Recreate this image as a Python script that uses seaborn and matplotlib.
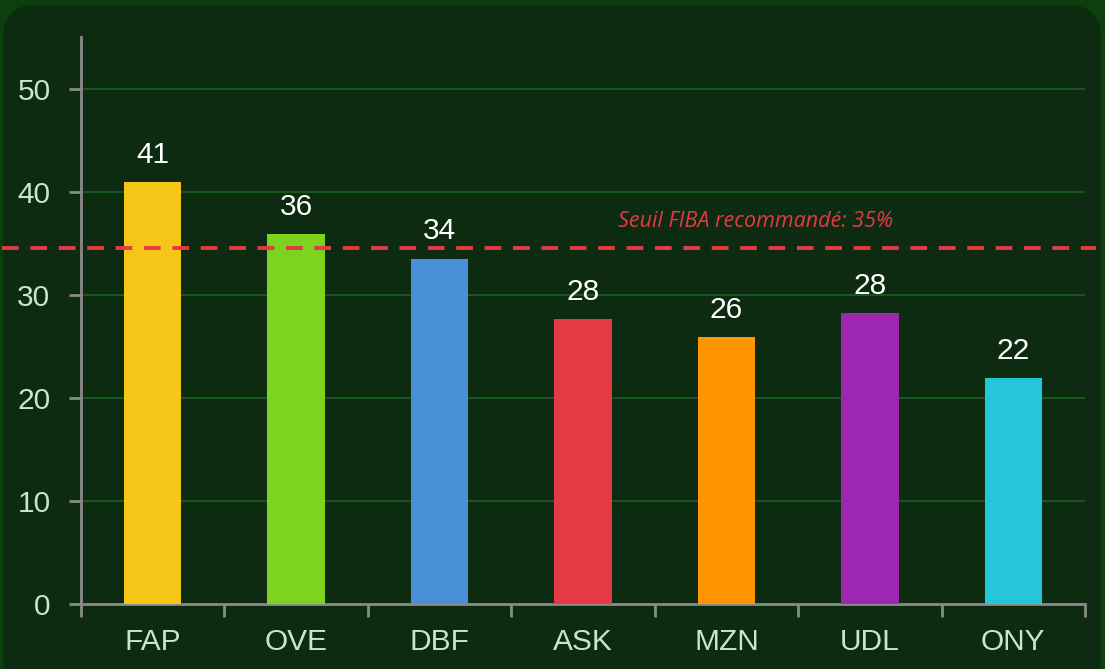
import matplotlib
matplotlib.use("Agg")
import matplotlib.pyplot as plt
import seaborn as sns
import pandas as pd
from matplotlib.patches import FancyBboxPatch

categories = ["FAP", "OVE", "DBF", "ASK", "MZN", "UDL", "ONY"]
values = [40.9, 35.9, 33.5, 27.6, 25.9, 28.2, 21.9]
colors = ["#F5C518", "#7ED321", "#4A90D9", "#E63946", "#FF9500", "#9C27B0", "#26C6DA"]
threshold = 34.5
threshold_label = "Seuil FIBA recommandé: 35%"
y_ticks = [0, 10, 20, 30, 40, 50]

sns.set_theme(style="white")
plt.rcParams['font.family'] = ['Liberation Sans', 'DejaVu Sans']

W, H = 1105, 669
fig = plt.figure(figsize=(W / 100, H / 100), dpi=100)
fig.patch.set_facecolor("#0b3f0c")
bg = FancyBboxPatch((3 / W, -20 / H), (W - 7) / W, (H + 15) / H,
                    boxstyle="round,pad=0,rounding_size=0.03",
                    transform=fig.transFigure, facecolor="#0d2b10",
                    edgecolor="none", zorder=-10, mutation_aspect=W / H)
fig.patches.append(bg)

ax = fig.add_axes([81 / W, (H - 604) / H, (1085 - 81) / W, (604 - 37) / H])
ax.set_facecolor("none")
ax.set_zorder(1)

df = pd.DataFrame({"cat": categories, "val": values})
sns.barplot(data=df, x="cat", y="val", hue="cat", palette=colors,
            legend=False, width=0.4, ax=ax, saturation=1, zorder=3,
            linewidth=0, edgecolor="none")

ax.set_xlim(-0.5, len(categories) - 0.5)
ax.set_ylim(0, 55)
ax.set_yticks(y_ticks)
ax.set_xlabel("")
ax.set_ylabel("")

for y in y_ticks[1:]:
    ax.axhline(y, color="#1f5e22", lw=1.2, zorder=1)

for i, v in enumerate(values):
    ax.text(i, v + 1.3, f"{round(v)}", ha="center", va="bottom",
            color="white", fontsize=21.5, zorder=5)

ax.axhline(threshold, xmin=-0.0787, xmax=1.011, clip_on=False,
           color="#E63946", lw=2.8, ls=(0, (4.3, 3.0)), zorder=4)
ax.text(4.206, threshold + 2.1, threshold_label, ha="center", va="baseline",
        color="#E63946", fontsize=15.5, style="italic", family="Open Sans", zorder=5)

for s in ["top", "right"]:
    ax.spines[s].set_visible(False)
for s in ["left", "bottom"]:
    ax.spines[s].set_color("#8a8a8a")
    ax.spines[s].set_linewidth(2)

ax.set_xticks([i - 0.5 for i in range(len(categories) + 1)], minor=True)
ax.tick_params(axis="x", which="major", length=0, pad=17, labelsize=21.5,
               labelcolor="#c8e6c9", bottom=True)
ax.tick_params(axis="x", which="minor", length=9, width=2, color="#8a8a8a",
               direction="out", bottom=True)
ax.tick_params(axis="y", which="major", length=9, width=2, color="#8a8a8a", pad=13,
               labelsize=21.5, labelcolor="#c8e6c9", left=True)

fig.savefig("out.png", dpi=100, facecolor=fig.get_facecolor())
